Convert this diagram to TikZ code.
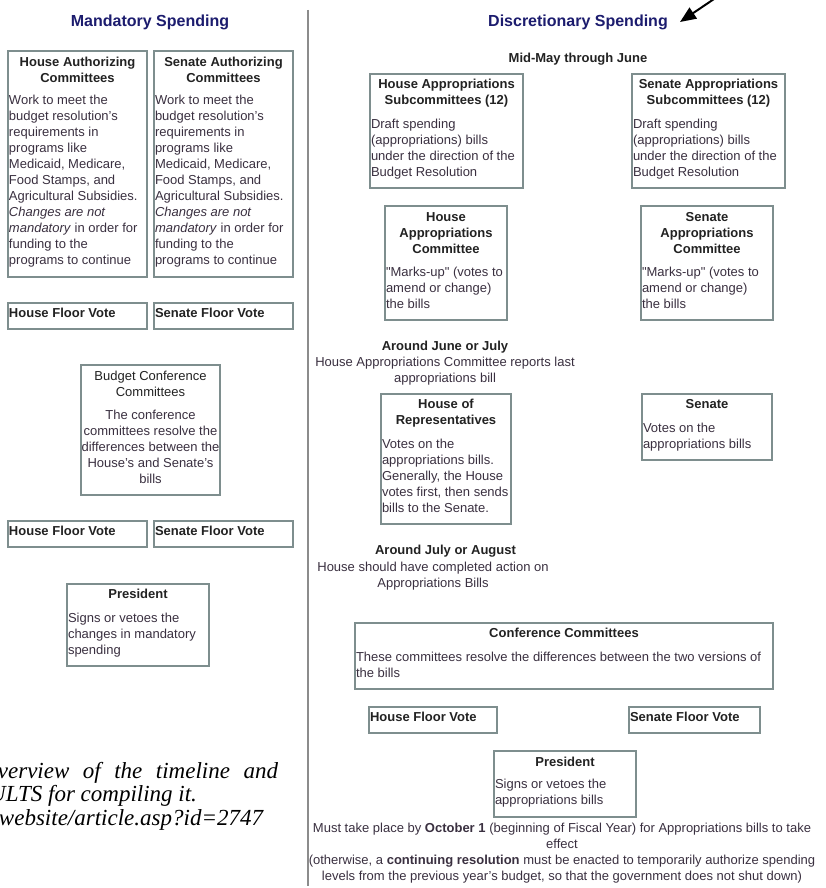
\documentclass[tikz,border=0pt]{standalone}
\usepackage{fontspec}
\setmainfont{Liberation Sans}
\newfontfamily\serifit{Liberation Serif}
\usetikzlibrary{arrows.meta}
\definecolor{navy}{HTML}{1C1C6E}
\definecolor{boxline}{HTML}{7E8E8E}
\definecolor{bodytxt}{HTML}{3A3040}
\definecolor{headtxt}{HTML}{222222}
\definecolor{sepline}{HTML}{8C8C8C}
\begin{document}
\begin{tikzpicture}[x=1pt, y={(0pt,-1pt)},
  every node/.style={inner sep=0pt, outer sep=0pt},
  sect/.style={font=\fontsize{16pt}{19pt}\selectfont\bfseries, text=navy, anchor=base},
  bx/.style={draw=boxline, line width=1.2pt, fill=white, rectangle, anchor=north west},
  ttl/.style={font=\fontsize{13pt}{16pt}\selectfont\bfseries, text=headtxt, align=center, anchor=north},
  ttlr/.style={font=\fontsize{13pt}{16pt}\selectfont, text=headtxt, align=center, anchor=north},
  bdy/.style={font=\fontsize{13pt}{16pt}\selectfont, text=bodytxt, align=left, anchor=north west},
  bdyc/.style={font=\fontsize{13pt}{16pt}\selectfont, text=bodytxt, align=center, anchor=north},
  fvt/.style={font=\fontsize{13pt}{16pt}\selectfont\bfseries, text=headtxt, anchor=north west},
  ital/.style={font=\serifit\itshape\fontsize{23pt}{24pt}\selectfont, text=black, anchor=base east},
  arr/.style={-{Triangle[length=16pt,width=13pt]}, line width=2pt, black}]
\useasboundingbox (0,0) rectangle (825,888);
\fill[white] (0,0) rectangle (825,888);
\clip (0,0) rectangle (825,888);

% separator
\coordinate (sepT) at (308,10);
\coordinate (sepB) at (308,886);
\draw[sepline, line width=2pt] (sepT) -- (sepB);

% section titles
\node[sect] (mand) at (150,26.5) {Mandatory Spending};
\node[sect] (disc) at (578,26.5) {Discretionary Spending};
\coordinate (arrS) at (714,-1);
\coordinate (arrE) at (680,22);
\draw[arr] (arrS) -- (arrE);

% ---------------- Mandatory ----------------
\node[bx, minimum width=139pt, minimum height=226pt] (hauth) at (8,51) {};
\node[ttl] (hautht) at (77.5,55.3) {\strut House Authorizing\\Committees};
\node[bdy] (hauthb) at (9,93.3) {\strut Work to meet the\\budget resolution's\\requirements in\\programs like\\Medicaid, Medicare,\\Food Stamps, and\\Agricultural Subsidies.\\\textit{Changes are not}\\\textit{mandatory} in order for\\funding to the\\programs to continue};

\node[bx, minimum width=139pt, minimum height=226pt] (sauth) at (154,51) {};
\node[ttl] (sautht) at (223.5,55.3) {\strut Senate Authorizing\\Committees};
\node[bdy] (sauthb) at (155,93.3) {\strut Work to meet the\\budget resolution's\\requirements in\\programs like\\Medicaid, Medicare,\\Food Stamps, and\\Agricultural Subsidies.\\\textit{Changes are not}\\\textit{mandatory} in order for\\funding to the\\programs to continue};

\node[bx, minimum width=139pt, minimum height=26pt] (hfva) at (8,303) {};
\node[fvt] (hfvat) at (9,306.3) {\strut House Floor Vote};
\node[bx, minimum width=139pt, minimum height=26pt] (sfva) at (154,303) {};
\node[fvt] (sfvat) at (155,306.3) {\strut Senate Floor Vote};

\node[bx, minimum width=139pt, minimum height=130pt] (bcc) at (81,365) {};
\node[ttlr] (bcct) at (150.5,369.3) {\strut Budget Conference\\Committees};
\node[bdyc] (bccb) at (150.5,408.3) {\strut The conference\\committees resolve the\\differences between the\\House's and Senate's\\bills};

\node[bx, minimum width=139pt, minimum height=26pt] (hfvb) at (8,521) {};
\node[fvt] (hfvbt) at (9,524.3) {\strut House Floor Vote};
\node[bx, minimum width=139pt, minimum height=26pt] (sfvb) at (154,521) {};
\node[fvt] (sfvbt) at (155,524.3) {\strut Senate Floor Vote};

\node[bx, minimum width=142pt, minimum height=82pt] (presl) at (67,584) {};
\node[ttl] (preslt) at (138,587.3) {\strut President};
\node[bdy] (preslb) at (68,611.3) {\strut Signs or vetoes the\\changes in mandatory\\spending};

% ---------------- Discretionary ----------------
\node[ttl] (midmay) at (578,51.3) {\strut Mid-May through June};

\node[bx, minimum width=153pt, minimum height=114pt] (hasub) at (370,74) {};
\node[ttl] (hasubt) at (446.5,77.3) {\strut House Appropriations\\Subcommittees (12)};
\node[bdy] (hasubb) at (371,117.3) {\strut Draft spending\\(appropriations) bills\\under the direction of the\\Budget Resolution};

\node[bx, minimum width=153pt, minimum height=114pt] (sasub) at (632,74) {};
\node[ttl] (sasubt) at (708.5,77.3) {\strut Senate Appropriations\\Subcommittees (12)};
\node[bdy] (sasubb) at (633,117.3) {\strut Draft spending\\(appropriations) bills\\under the direction of the\\Budget Resolution};

\node[bx, minimum width=122pt, minimum height=114pt] (hacom) at (385,206) {};
\node[ttl] (hacomt) at (446,210.3) {\strut House\\Appropriations\\Committee};
\node[bdy] (hacomb) at (386,265.3) {\strut \textquotedbl Marks-up\textquotedbl{} (votes to\\amend or change)\\the bills};

\node[bx, minimum width=132pt, minimum height=114pt] (sacom) at (641,206) {};
\node[ttl] (sacomt) at (707,210.3) {\strut Senate\\Appropriations\\Committee};
\node[bdy] (sacomb) at (642,265.3) {\strut \textquotedbl Marks-up\textquotedbl{} (votes to\\amend or change)\\the bills};

\node[ttl] (junjul) at (445,339.3) {\strut Around June or July};
\node[bdyc] (junjulb) at (445,355.3) {\strut House Appropriations Committee reports last\\appropriations bill};

\node[bx, minimum width=130pt, minimum height=130pt] (hor) at (381,394) {};
\node[ttl] (hort) at (446,397.3) {\strut House of\\Representatives};
\node[bdy] (horb) at (382,437.3) {\strut Votes on the\\appropriations bills.\\Generally, the House\\votes first, then sends\\bills to the Senate.};

\node[bx, minimum width=130pt, minimum height=66pt] (sen) at (642,394) {};
\node[ttl] (sent) at (707,397.3) {\strut Senate};
\node[bdy] (senb) at (643,421.3) {\strut Votes on the\\appropriations bills};

\node[ttl] (julaug) at (445.5,543.3) {\strut Around July or August};
\node[bdyc] (julaugb) at (433,560.3) {\strut House should have completed action on\\Appropriations Bills};

\node[bx, minimum width=418pt, minimum height=66pt] (conf) at (355,623) {};
\node[ttl] (conft) at (564,626.3) {\strut Conference Committees};
\node[bdy] (confb) at (356,650.3) {\strut These committees resolve the differences between the two versions of\\the bills};

\node[bx, minimum width=128pt, minimum height=26pt] (hfvc) at (369,707) {};
\node[fvt] (hfvct) at (370,710.3) {\strut House Floor Vote};
\node[bx, minimum width=131pt, minimum height=26pt] (sfvc) at (629,707) {};
\node[fvt] (sfvct) at (630,710.3) {\strut Senate Floor Vote};

\node[bx, minimum width=142pt, minimum height=66pt] (presr) at (494,751) {};
\node[ttl] (presrt) at (565,755.3) {\strut President};
\node[bdy] (presrb) at (495,777.3) {\strut Signs or vetoes the\\appropriations bills};

\node[bdyc] (foot) at (562,821.3) {\strut Must take place by \textbf{October 1} (beginning of Fiscal Year) for Appropriations bills to take\\effect\\(otherwise, a \textbf{continuing resolution} must be enacted to temporarily authorize spending\\levels from the previous year's budget, so that the government does not shut down)};

% ---------------- clipped italic caption ----------------
\node[ital] (capa) at (278,778) {overview\hspace{13.5pt}of\hspace{13.5pt}the\hspace{13.5pt}timeline\hspace{13.5pt}and};
\node[ital] (capb) at (197,801.5) {ULTS for compiling it.};
\node[ital] (capc) at (263,825) {website/article.asp?id=2747};
\end{tikzpicture}
\end{document}
